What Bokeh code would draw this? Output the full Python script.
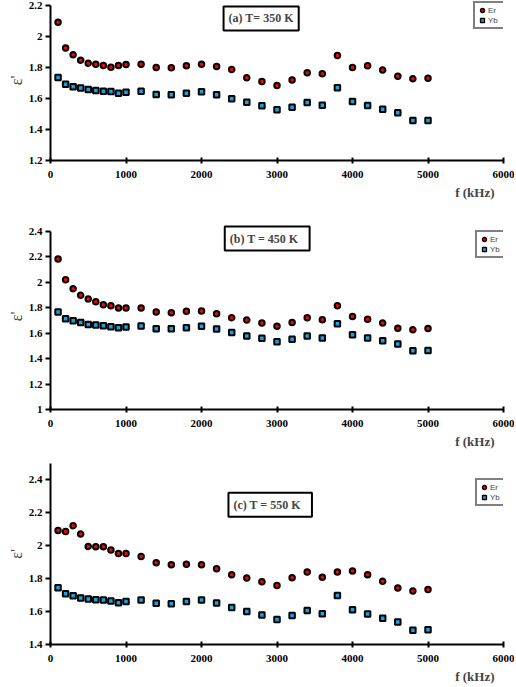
from bokeh.plotting import figure
from bokeh.layouts import column
from bokeh.models import Label, Legend, LegendItem, FixedTicker, CustomJSTickFormatter, Range1d, Title
from bokeh.embed import file_html
from bokeh.resources import INLINE

# frequency (kHz)
freq = [100, 200, 300, 400, 500, 600, 700, 800, 900, 1000,
        1200, 1400, 1600, 1800, 2000, 2200, 2400, 2600, 2800, 3000,
        3200, 3400, 3600, 3800, 4000, 4200, 4400, 4600, 4800, 5000]

# (a) T = 350 K
er_350 = [2.092, 1.925, 1.882, 1.847, 1.828, 1.821, 1.813, 1.802, 1.813, 1.819,
          1.821, 1.800, 1.798, 1.811, 1.821, 1.806, 1.787, 1.733, 1.710, 1.684,
          1.720, 1.766, 1.759, 1.877, 1.800, 1.811, 1.783, 1.744, 1.727, 1.731]
yb_350 = [1.735, 1.692, 1.675, 1.667, 1.658, 1.652, 1.647, 1.645, 1.634, 1.641,
          1.647, 1.626, 1.624, 1.634, 1.643, 1.624, 1.598, 1.576, 1.553, 1.527,
          1.544, 1.574, 1.557, 1.669, 1.581, 1.555, 1.531, 1.508, 1.458, 1.458]

# (b) T = 450 K
er_450 = [2.184, 2.021, 1.950, 1.898, 1.869, 1.848, 1.824, 1.816, 1.798, 1.798,
          1.798, 1.766, 1.761, 1.772, 1.774, 1.753, 1.722, 1.703, 1.680, 1.654,
          1.685, 1.722, 1.706, 1.816, 1.732, 1.709, 1.680, 1.640, 1.627, 1.638]
yb_450 = [1.766, 1.714, 1.698, 1.685, 1.669, 1.664, 1.659, 1.651, 1.643, 1.648,
          1.656, 1.635, 1.635, 1.643, 1.654, 1.633, 1.605, 1.579, 1.561, 1.532,
          1.553, 1.579, 1.563, 1.675, 1.587, 1.563, 1.540, 1.516, 1.462, 1.464]

# (c) T = 550 K
er_550 = [2.093, 2.087, 2.122, 2.071, 1.996, 1.994, 1.994, 1.974, 1.953, 1.953,
          1.935, 1.897, 1.884, 1.888, 1.884, 1.860, 1.824, 1.804, 1.782, 1.759,
          1.806, 1.841, 1.808, 1.841, 1.847, 1.824, 1.784, 1.743, 1.725, 1.735]
yb_550 = [1.745, 1.709, 1.696, 1.682, 1.676, 1.672, 1.670, 1.664, 1.654, 1.662,
          1.670, 1.650, 1.648, 1.662, 1.670, 1.652, 1.625, 1.601, 1.580, 1.552,
          1.576, 1.607, 1.587, 1.698, 1.611, 1.585, 1.560, 1.537, 1.486, 1.489]

x_ticks = [0, 1000, 2000, 3000, 4000, 5000, 6000]
y_ticks_350 = [1.2, 1.4, 1.6, 1.8, 2.0, 2.2]
y_ticks_450 = [1.0, 1.2, 1.4, 1.6, 1.8, 2.0, 2.2, 2.4]
y_ticks_550 = [1.4, 1.6, 1.8, 2.0, 2.2, 2.4]

titles = ["(a) T= 350 K", "(b) T =  450  K", "(c) T =  550  K"]
series_names = ["Er", "Yb"]
x_title = "f (kHz)"
y_title = "\u03b5'"

ER_COLOR = "#ff0000"
YB_COLOR = "#18a4e0"
SERIF = "Liberation Serif"


def make_panel(er, yb, ybounds, ymax, yticks, title, title_xy, height, top, bottom, legend_loc):
    p = figure(width=514, height=height, x_range=Range1d(0, 6000), y_range=Range1d(ybounds[0], ymax),
               output_backend="svg", toolbar_location=None,
               min_border_left=50, min_border_right=11, min_border_top=top, min_border_bottom=bottom)
    p.outline_line_color = None
    p.xgrid.visible = False
    p.ygrid.visible = False
    p.background_fill_color = "white"
    p.border_fill_color = "white"

    for ax in (p.xaxis[0], p.yaxis[0]):
        ax.axis_line_width = 2
        ax.axis_line_color = "black"
        ax.major_tick_line_width = 2
        ax.major_tick_line_color = "black"
        ax.minor_tick_line_color = None
        ax.major_label_text_font = SERIF
        ax.major_label_text_font_style = "bold"
        ax.major_label_text_font_size = "11px"
        ax.major_label_text_color = "black"

    p.xaxis.ticker = FixedTicker(ticks=x_ticks)
    p.xaxis.major_tick_in = 3
    p.xaxis.major_tick_out = 3
    p.xaxis.major_label_standoff = 7

    p.yaxis.ticker = FixedTicker(ticks=yticks)
    p.yaxis.bounds = ybounds
    p.yaxis.major_tick_in = 0
    p.yaxis.major_tick_out = 5
    p.yaxis.major_label_standoff = 3
    p.yaxis.formatter = CustomJSTickFormatter(code="return (Math.round(tick*10)/10).toString();")
    p.yaxis.axis_label = y_title
    p.yaxis.axis_label_text_font = SERIF
    p.yaxis.axis_label_text_font_style = "normal"
    p.yaxis.axis_label_text_font_size = "16px"
    p.yaxis.axis_label_standoff = 1

    p.scatter(freq, er, marker="circle", size=5.5, fill_color=ER_COLOR,
              line_color="black", line_width=2)
    p.scatter(freq, yb, marker="square", size=5.5, fill_color=YB_COLOR,
              line_color="black", line_width=2)

    # legend proxies: one point placed off-screen, thinner outline so the colour shows at legend size
    off_x = [-10000]
    off_y = [0]
    lg_er = p.scatter(off_x, off_y, marker="circle", size=6, fill_color=ER_COLOR, line_color="black", line_width=1.3)
    lg_yb = p.scatter(off_x, off_y, marker="square", size=6, fill_color=YB_COLOR, line_color="black", line_width=1.3)

    legend = Legend(items=[LegendItem(label=series_names[0], renderers=[lg_er]),
                           LegendItem(label=series_names[1], renderers=[lg_yb])],
                    location=legend_loc)
    legend.border_line_color = "black"
    legend.border_line_width = 2
    legend.background_fill_color = "white"
    legend.background_fill_alpha = 1
    legend.label_text_font = "Liberation Sans"
    legend.label_text_font_size = "8px"
    legend.label_standoff = 1
    legend.label_height = 10
    legend.glyph_height = 10
    legend.glyph_width = 10
    legend.spacing = 0
    legend.padding = 2
    legend.margin = 0
    p.add_layout(legend)

    t = Label(x=title_xy[0], y=title_xy[1], text=title, text_align="center", text_baseline="middle",
              text_font=SERIF, text_font_style="bold", text_font_size="12px",
              border_line_color="black", border_line_width=2,
              background_fill_color="white", padding=5)
    p.add_layout(t)

    xt = Title(text=x_title, align="right", offset=9, standoff=4,
               text_font=SERIF, text_font_style="bold", text_font_size="13px")
    p.add_layout(xt, "below")
    return p


pa = make_panel(er_350, yb_350, (1.2, 2.2), 2.232, y_ticks_350, titles[0], (2790, 2.116), 212, 0, 52, (423, 131))
pb = make_panel(er_450, yb_450, (1.0, 2.4), 2.463, y_ticks_450, titles[1], (2870, 2.345), 243, 11, 46, (425, 151))
pc = make_panel(er_550, yb_550, (1.4, 2.5), 2.5, y_ticks_550, titles[2], (2910, 2.25), 230, 8, 41, (425, 138))

layout = column(pa, pb, pc, spacing=0)
open("out.html", "w").write(file_html(layout, INLINE))
